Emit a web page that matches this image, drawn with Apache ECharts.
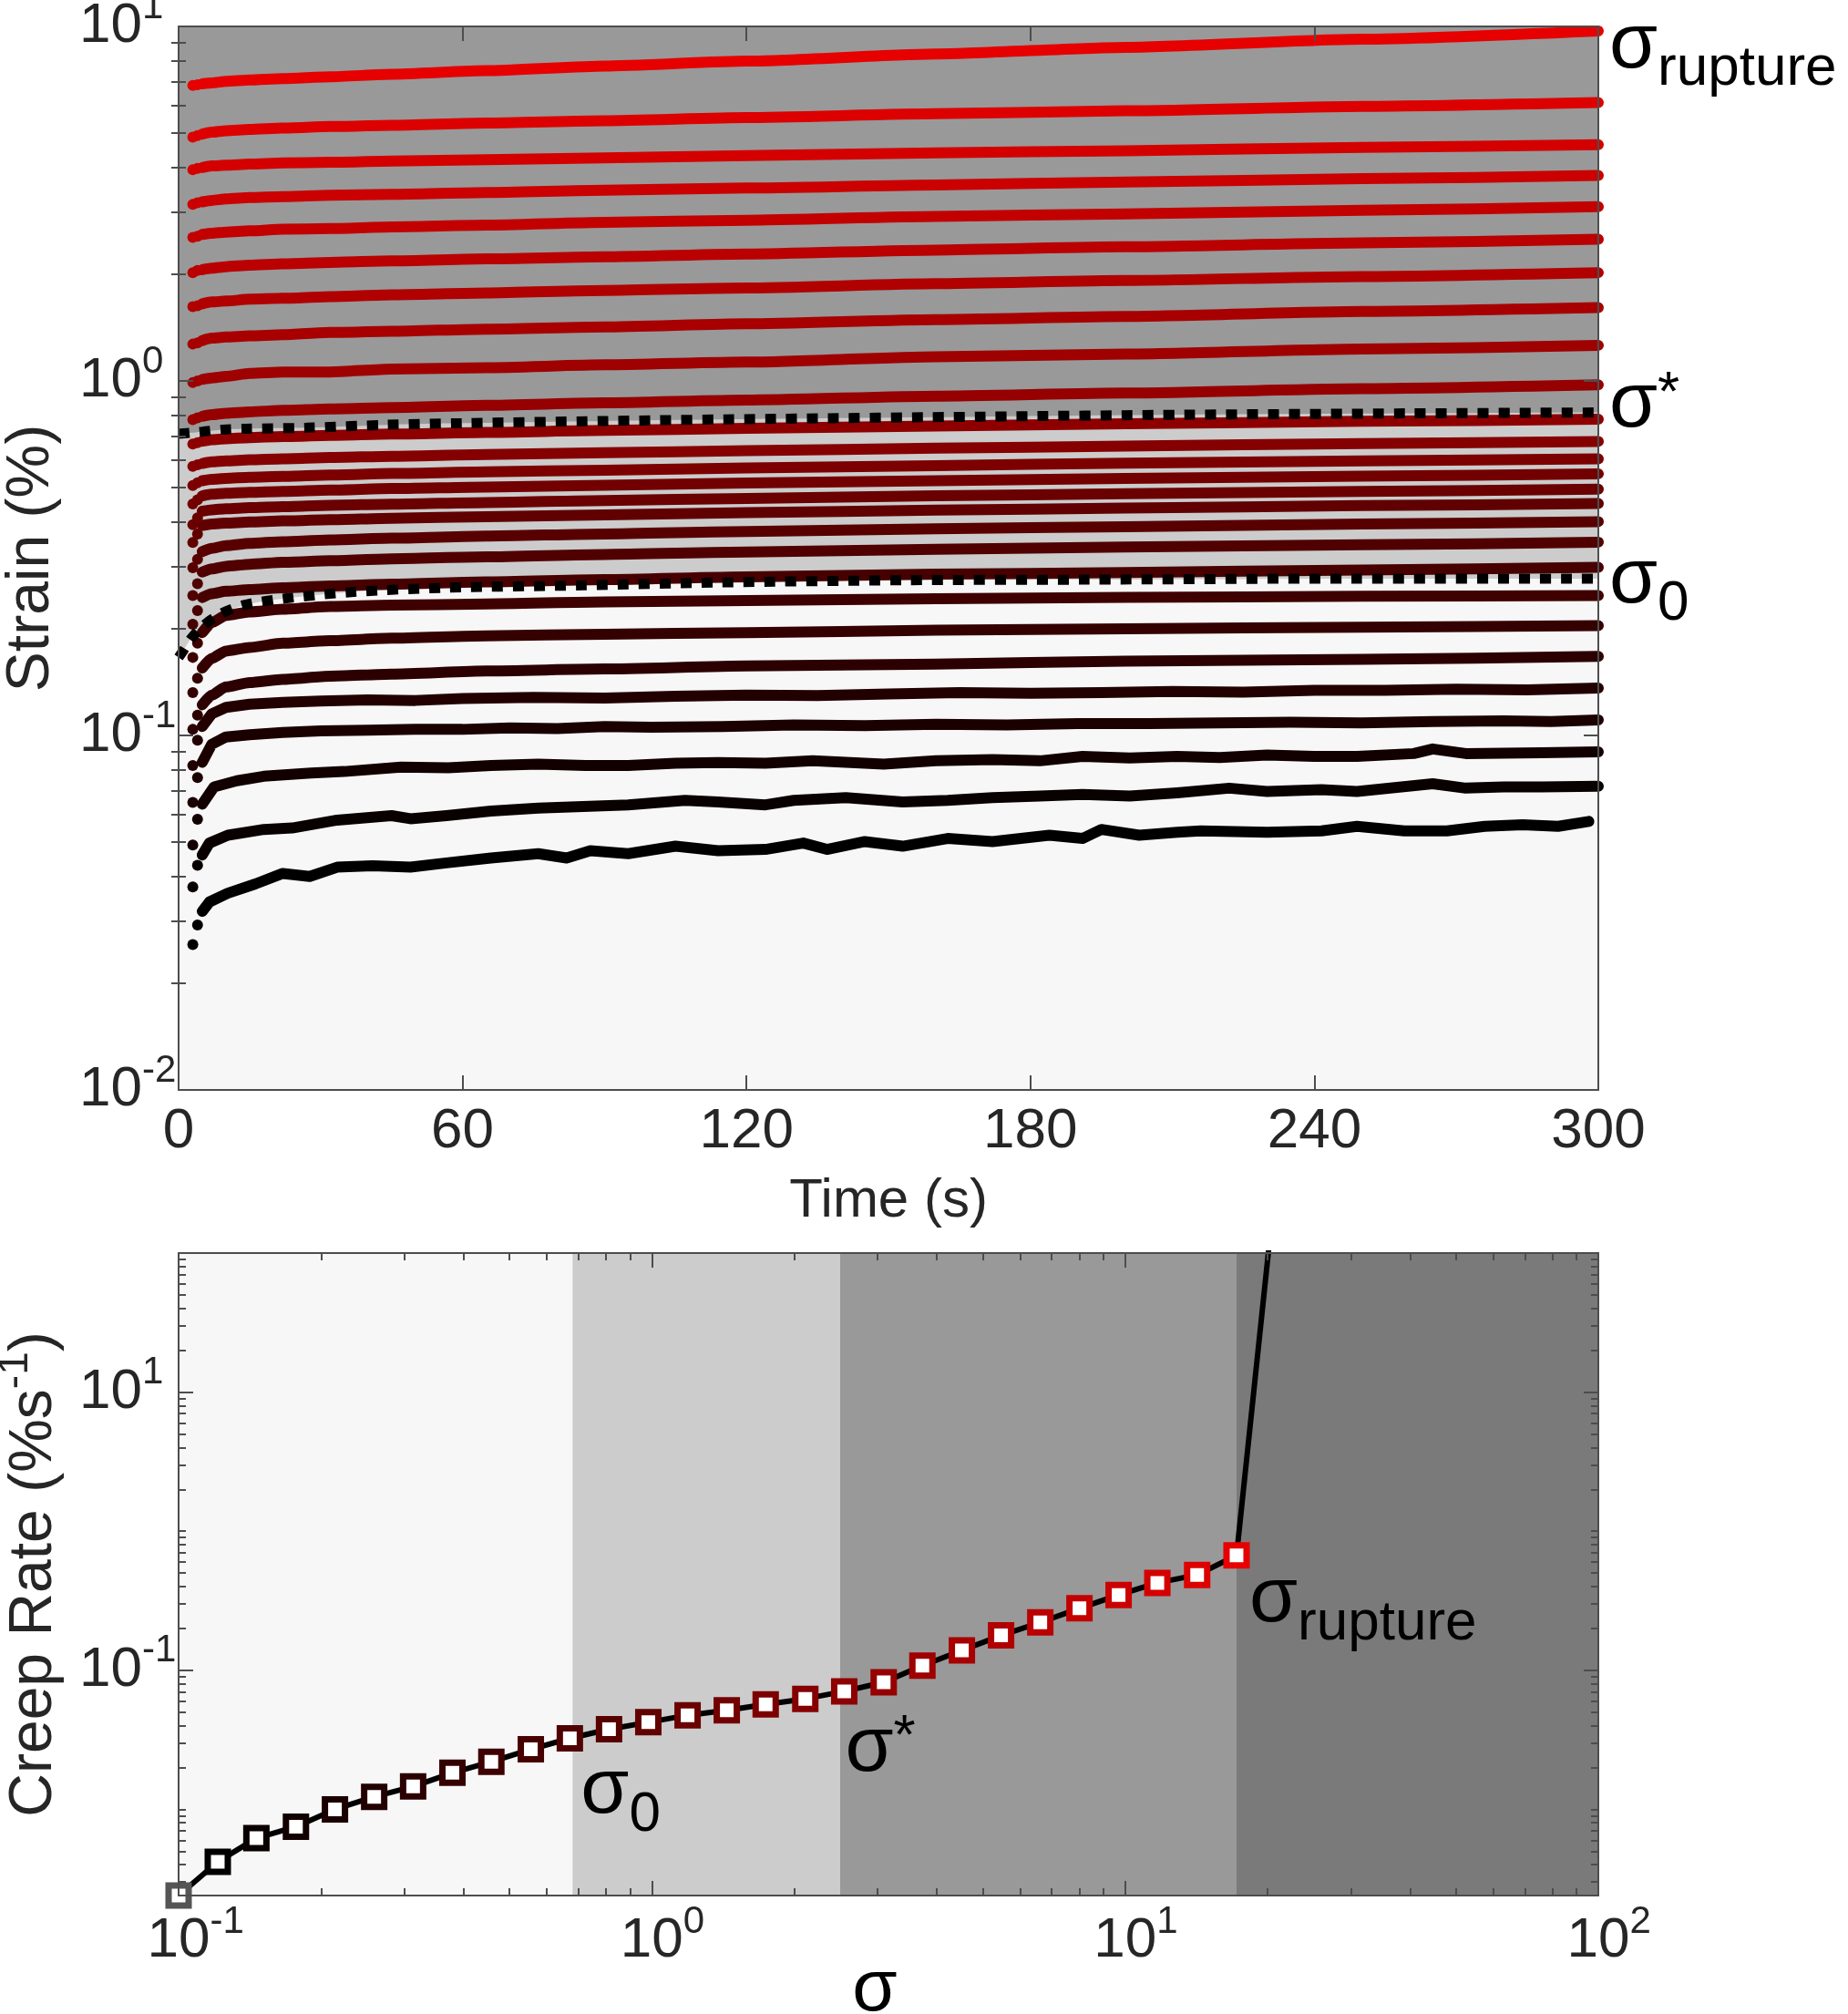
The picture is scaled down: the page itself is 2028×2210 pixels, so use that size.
<!DOCTYPE html>
<html>
<head>
<meta charset="utf-8">
<title>Creep strain and creep rate</title>
<script src="https://cdn.jsdelivr.net/npm/echarts@6.0.0/dist/echarts.min.js"></script>
<style>
  html, body { margin: 0; padding: 0; background: #ffffff; }
  #chart { width: 2028px; height: 2210px; }
</style>
</head>
<body>
<div id="chart"></div>
<script>
// ---- top panel: strain vs time, one curve per stress step (top = highest stress) ----
const leadTimes = [3, 4];
const bodyTimes = [5, 7, 10, 15, 22, 32, 45, 65, 90, 120, 160, 200, 250, 300];

// values at leadTimes followed by bodyTimes
const upperStrain = [
  [6.82, 6.85, 6.89, 6.93, 7.00, 7.06, 7.13, 7.21, 7.33, 7.50, 7.73, 7.98, 8.36, 8.73, 9.20, 9.71],
  [4.87, 4.92, 4.97, 5.03, 5.08, 5.12, 5.17, 5.22, 5.26, 5.34, 5.42, 5.53, 5.67, 5.78, 5.95, 6.10],
  [3.94, 3.98, 4.00, 4.04, 4.06, 4.09, 4.12, 4.14, 4.17, 4.21, 4.26, 4.32, 4.40, 4.46, 4.56, 4.64],
  [3.15, 3.18, 3.20, 3.23, 3.26, 3.29, 3.31, 3.34, 3.36, 3.40, 3.45, 3.50, 3.57, 3.64, 3.72, 3.80],
  [2.54, 2.56, 2.59, 2.61, 2.63, 2.65, 2.68, 2.69, 2.72, 2.75, 2.80, 2.84, 2.91, 2.96, 3.03, 3.10],
  [2.02, 2.05, 2.06, 2.08, 2.10, 2.12, 2.14, 2.16, 2.18, 2.21, 2.24, 2.28, 2.34, 2.39, 2.45, 2.51],
  [1.62, 1.63, 1.65, 1.67, 1.68, 1.70, 1.71, 1.73, 1.75, 1.77, 1.80, 1.83, 1.88, 1.92, 1.97, 2.02],
  [1.27, 1.28, 1.30, 1.32, 1.33, 1.34, 1.35, 1.37, 1.38, 1.40, 1.42, 1.45, 1.49, 1.52, 1.57, 1.61],
  [0.989, 1.00, 1.01, 1.02, 1.03, 1.05, 1.06, 1.06, 1.08, 1.09, 1.11, 1.13, 1.17, 1.19, 1.23, 1.26],
  [0.778, 0.787, 0.795, 0.803, 0.811, 0.818, 0.826, 0.834, 0.841, 0.853, 0.867, 0.883, 0.906, 0.924, 0.951, 0.975]
];

const middleStrain = [
  [0.664, 0.670, 0.676, 0.683, 0.687, 0.692, 0.697, 0.702, 0.708, 0.716, 0.725, 0.735, 0.746, 0.757, 0.769, 0.780],
  [0.574, 0.580, 0.585, 0.591, 0.595, 0.599, 0.603, 0.608, 0.613, 0.620, 0.627, 0.636, 0.646, 0.655, 0.666, 0.675],
  [0.507, 0.516, 0.523, 0.528, 0.531, 0.535, 0.538, 0.543, 0.548, 0.554, 0.560, 0.568, 0.577, 0.586, 0.595, 0.603],
  [0.450, 0.462, 0.474, 0.479, 0.482, 0.485, 0.488, 0.492, 0.497, 0.502, 0.508, 0.515, 0.523, 0.531, 0.539, 0.547],
  [0.393, 0.411, 0.429, 0.433, 0.436, 0.439, 0.442, 0.446, 0.449, 0.454, 0.460, 0.466, 0.474, 0.481, 0.488, 0.495],
  [0.350, 0.370, 0.391, 0.395, 0.397, 0.400, 0.403, 0.406, 0.410, 0.414, 0.419, 0.425, 0.432, 0.438, 0.445, 0.451],
  [0.297, 0.314, 0.330, 0.337, 0.343, 0.348, 0.352, 0.356, 0.360, 0.365, 0.370, 0.376, 0.383, 0.388, 0.395, 0.401],
  [0.248, 0.268, 0.289, 0.295, 0.300, 0.304, 0.308, 0.311, 0.315, 0.319, 0.324, 0.329, 0.335, 0.340, 0.345, 0.351],
  [0.206, 0.225, 0.245, 0.251, 0.255, 0.258, 0.261, 0.264, 0.267, 0.271, 0.275, 0.280, 0.285, 0.288, 0.293, 0.298]
];

const lowerStrain = [
  [0.166, 0.182, 0.195, 0.208, 0.218, 0.223, 0.227, 0.231, 0.233, 0.235, 0.238, 0.240, 0.243, 0.245, 0.247, 0.248],
  [0.132, 0.145, 0.155, 0.165, 0.173, 0.177, 0.182, 0.185, 0.188, 0.191, 0.193, 0.195, 0.198, 0.200, 0.202, 0.204],
  [0.104, 0.114, 0.122, 0.130, 0.137, 0.141, 0.144, 0.147, 0.149, 0.152, 0.154, 0.157, 0.159, 0.162, 0.164, 0.167]
];

// the noisy low-stress curves, [time, strain]
const noisyStrain = [
  [[3, 0.0822], [4, 0.097], [5, 0.106], [7, 0.115], [10, 0.120], [15, 0.1225], [22, 0.124], [30, 0.125], [40, 0.126],
   [50, 0.1255], [60, 0.127], [75, 0.128], [90, 0.1275], [105, 0.129], [120, 0.130], [135, 0.1295], [150, 0.131],
   [165, 0.132], [180, 0.1315], [195, 0.132], [210, 0.133], [225, 0.1325], [240, 0.134], [255, 0.134], [270, 0.135],
   [285, 0.1345], [300, 0.136]],
  [[3, 0.0647], [4, 0.076], [5, 0.084], [7, 0.0944], [10, 0.099], [15, 0.1005], [22, 0.102], [30, 0.103], [40, 0.1035],
   [50, 0.104], [60, 0.104], [70, 0.105], [80, 0.1045], [90, 0.106], [100, 0.1055], [115, 0.106], [130, 0.107],
   [145, 0.1065], [160, 0.1075], [175, 0.107], [190, 0.108], [205, 0.108], [220, 0.1085], [235, 0.109], [250, 0.1085],
   [265, 0.1095], [280, 0.110], [290, 0.1095], [300, 0.1106]],
  [[3, 0.0491], [4, 0.058], [5, 0.064], [7.5, 0.0716], [12.3, 0.0745], [18, 0.0767], [28, 0.0783], [35, 0.0791],
   [47, 0.0814], [57, 0.081], [66, 0.0822], [76, 0.083], [86, 0.0822], [95, 0.0822], [105, 0.0835], [114, 0.0839],
   [124, 0.0835], [134, 0.0848], [149, 0.083], [160, 0.0848], [172, 0.0855], [182, 0.0848], [191, 0.0873],
   [201, 0.0864], [211, 0.0873], [220, 0.0866], [230, 0.0881], [240, 0.0873], [249, 0.0873], [261, 0.0889],
   [265, 0.0916], [272, 0.0889], [288, 0.0893], [300, 0.0899]],
  [[3, 0.0374], [4, 0.043], [5, 0.046], [6.5, 0.0497], [10.4, 0.0523], [18, 0.0543], [24, 0.0548], [33.5, 0.0577],
   [45, 0.0594], [49, 0.0582], [56.6, 0.0594], [66, 0.0612], [76, 0.0624], [85.5, 0.063], [95, 0.0637], [107, 0.0656],
   [114, 0.0649], [124, 0.0637], [130, 0.0656], [141, 0.0668], [153, 0.0649], [162.5, 0.0656], [172, 0.0668],
   [182, 0.0675], [191, 0.0682], [201, 0.0675], [211, 0.0689], [222, 0.0710], [230, 0.0695], [241.5, 0.0703],
   [249, 0.0695], [265, 0.0731], [272, 0.0710], [280, 0.0716], [288, 0.0716], [300, 0.0719]],
  [[3, 0.0257], [4, 0.0292], [5, 0.0319], [6.5, 0.0339], [10.4, 0.0359], [16.2, 0.0381], [22, 0.0408], [27.7, 0.040],
   [33.5, 0.0425], [41, 0.0429], [49, 0.0425], [56.6, 0.0437], [66, 0.0451], [76, 0.0464], [82, 0.0451], [87, 0.0473],
   [95, 0.0464], [105, 0.0487], [114, 0.0473], [124, 0.0477], [132, 0.0497], [137, 0.0477], [145, 0.0502],
   [153, 0.0487], [162.5, 0.0512], [172, 0.0502], [184, 0.0523], [191, 0.0512], [195, 0.0543], [203, 0.0523],
   [211, 0.0533], [216, 0.0538], [230, 0.0533], [241.5, 0.0538], [249, 0.0554], [259, 0.0538], [268, 0.0538],
   [276, 0.0554], [284, 0.0560], [291.5, 0.0554], [298, 0.0572]]
];

// dotted regime boundaries [time, strain]
const sigmaStarLine = [[0, 0.709], [5, 0.719], [9.4, 0.729], [14, 0.733], [27, 0.738], [44, 0.752], [60, 0.760],
  [90, 0.771], [126, 0.782], [170, 0.793], [213, 0.803], [260, 0.810], [300, 0.815]];
const sigmaZeroLine = [[0, 0.166], [0.8, 0.172], [2.7, 0.188], [5.6, 0.206], [9.4, 0.222], [14.3, 0.234], [22, 0.243],
  [37, 0.254], [56.6, 0.261], [85.5, 0.265], [114, 0.270], [153, 0.274], [191, 0.275], [249, 0.277], [300, 0.277]];

const timeTicks = [0, 60, 120, 180, 240, 300];
const strainMajor = [0.01, 0.1, 1, 10];
const strainMinor = [0.02, 0.03, 0.04, 0.05, 0.06, 0.07, 0.08, 0.09, 0.2, 0.3, 0.4, 0.5, 0.6, 0.7, 0.8, 0.9,
  2, 3, 4, 5, 6, 7, 8, 9];

// ---- bottom panel: creep rate vs stress ----
const stressLevels = [0.1, 0.121, 0.146, 0.177, 0.214, 0.259, 0.313, 0.379, 0.458, 0.555, 0.671, 0.812, 0.983,
  1.19, 1.44, 1.74, 2.11, 2.55, 3.09, 3.73, 4.52, 5.47, 6.62, 8.01, 9.69, 11.7, 14.2, 17.2];
const creepRates = [0.0024, 0.0042, 0.0062, 0.0075, 0.0100, 0.0123, 0.0146, 0.0183, 0.0220, 0.0270, 0.0324,
  0.0377, 0.0423, 0.0475, 0.0515, 0.0569, 0.0623, 0.0706, 0.082, 0.108, 0.139, 0.178, 0.221, 0.279, 0.348,
  0.425, 0.485, 0.670];
const ruptureRate = [20.7, 270]; // next point, off the top of the axis

const bandEdges = [0.1, 0.68, 2.5, 17.2, 100];
const bandColors = ['#f7f7f7', '#cccccc', '#999999', '#7a7a7a'];

const stressMajor = [0.1, 1, 10, 100];
const stressMinor = [0.2, 0.3, 0.4, 0.5, 0.6, 0.7, 0.8, 0.9, 2, 3, 4, 5, 6, 7, 8, 9, 20, 30, 40, 50, 60, 70, 80, 90];
const rateMajor = [0.1, 10];
const rateMinor = [0.003, 0.004, 0.005, 0.006, 0.007, 0.008, 0.009, 0.01, 0.02, 0.03, 0.04, 0.05, 0.06, 0.07,
  0.08, 0.09, 0.2, 0.3, 0.4, 0.5, 0.6, 0.7, 0.8, 0.9, 1, 2, 3, 4, 5, 6, 7, 8, 9, 20, 30, 40, 50, 60, 70, 80, 90, 100];

// ---- styling ----
const FONT = '"Liberation Sans", Arial, Helvetica, sans-serif';
const AX = '#4d4d4d';
const TXT = '#262626';
const CURVE_W = 12;
const Y_LABEL_LEFT = 87; // MATLAB lines the "10" bases up on the left

// black (lowest stress) -> red (highest)
function curveColor(rank) {
  return 'rgb(' + Math.round(230 * rank / 26) + ',0,0)';
}

const powRich = {
  b: { fontFamily: FONT, fontSize: 62, lineHeight: 84, color: TXT },
  s: { fontFamily: FONT, fontSize: 42, lineHeight: 42, verticalAlign: 'top', color: TXT },
  p: { fontFamily: FONT, fontSize: 42, lineHeight: 42, verticalAlign: 'top', color: 'rgba(0,0,0,0)' }
};
const sigmaRich = {
  s: { fontFamily: FONT, fontSize: 86, lineHeight: 86, verticalAlign: 'top', color: '#000' },
  sub: { fontFamily: FONT, fontSize: 62, lineHeight: 62, verticalAlign: 'top', padding: [38, 0, 0, 0], color: '#000' },
  sup: { fontFamily: FONT, fontSize: 62, lineHeight: 62, verticalAlign: 'top', color: '#000' }
};

function expOf(v) { return Math.round(Math.log10(v)); }
function powLabel(v) { return '{b|10}{s|' + expOf(v) + '}'; }
function powLabelCentered(v) { const e = expOf(v); return '{p|' + e + '}{b|10}{s|' + e + '}'; }

const axisLine = { show: true, onZero: false, lineStyle: { color: AX, width: 2 } };
function ticks(len, values) {
  const t = { show: true, inside: true, length: len, lineStyle: { color: AX, width: 2 } };
  if (values) t.customValues = values;
  return t;
}
const noLabel = { show: false };
const noSplit = { show: false };

function logAxis(grid, min, max, pos, tickLen, tickVals, extra) {
  return Object.assign({
    gridIndex: grid, type: 'log', logBase: 10, min: min, max: max, position: pos, z: 10,
    axisLine: axisLine, axisTick: ticks(tickLen, tickVals), axisLabel: noLabel,
    splitLine: noSplit, minorTick: { show: false }, minorSplitLine: { show: false }
  }, extra || {});
}

// ---- build series ----
const series = [];

// regime fills (top panel)
series.push({
  type: 'line', xAxisIndex: 0, yAxisIndex: 0, data: sigmaZeroLine, symbol: 'none', smooth: 0.3,
  lineStyle: { width: 0 }, areaStyle: { color: '#cccccc', origin: 'end', opacity: 1 }, z: 1, silent: true
});
series.push({
  type: 'line', xAxisIndex: 0, yAxisIndex: 0, data: sigmaStarLine, symbol: 'none', smooth: 0.3,
  lineStyle: { width: 0 }, areaStyle: { color: '#999999', origin: 'end', opacity: 1 }, z: 1, silent: true
});

const curves = [];
[].concat(upperStrain, middleStrain, lowerStrain).forEach(function (vals) {
  curves.push({
    lead: leadTimes.map(function (t, j) { return [t, vals[j]]; }),
    body: bodyTimes.map(function (t, j) { return [t, vals[j + leadTimes.length]]; }),
    smooth: true
  });
});
noisyStrain.forEach(function (pairs) {
  curves.push({ lead: pairs.slice(0, 2), body: pairs.slice(2), smooth: false });
});

// draw from lowest stress up so the red curves sit on top
for (let i = curves.length - 1; i >= 0; i--) {
  const c = curves[i];
  const color = curveColor(curves.length - 1 - i);
  const line = {
    type: 'line', xAxisIndex: 0, yAxisIndex: 0, data: c.body, symbol: 'none', showSymbol: false,
    smooth: c.smooth ? 0.2 : false, smoothMonotone: 'x',
    lineStyle: { color: color, width: CURVE_W, cap: 'round', join: 'round' }, z: 3, silent: true
  };
  if (i === 0) {
    line.endLabel = {
      show: true, formatter: '{s|σ}{sub|rupture}', rich: sigmaRich,
      distance: 12, offset: [0, 16], align: 'left', verticalAlign: 'middle'
    };
  }
  series.push(line);
  series.push({
    type: 'scatter', xAxisIndex: 0, yAxisIndex: 0, data: c.lead, symbol: 'circle', symbolSize: CURVE_W,
    itemStyle: { color: color, opacity: 1 }, z: 3, silent: true, clip: false
  });
}

// dotted regime boundaries
const dotted = { color: '#000', width: 11, type: [12, 11], cap: 'butt' };
series.push({
  type: 'line', xAxisIndex: 0, yAxisIndex: 0, data: sigmaStarLine, symbol: 'none', smooth: 0.3,
  lineStyle: dotted, z: 5, silent: true,
  endLabel: { show: true, formatter: '{s|σ}{sup|*}', rich: sigmaRich, distance: 12, offset: [0, -8],
    align: 'left', verticalAlign: 'middle' }
});
series.push({
  type: 'line', xAxisIndex: 0, yAxisIndex: 0, data: sigmaZeroLine, symbol: 'none', smooth: 0.3,
  lineStyle: dotted, z: 5, silent: true,
  endLabel: { show: true, formatter: '{s|σ}{sub|0}', rich: sigmaRich, distance: 12, offset: [0, 2],
    align: 'left', verticalAlign: 'middle' }
});

// bottom panel
const creepPoints = stressLevels.map(function (s, k) { return [s, creepRates[k]]; });
const bands = [];
for (let b = 0; b < bandColors.length; b++) {
  bands.push([{ xAxis: bandEdges[b], itemStyle: { color: bandColors[b], opacity: 1 } }, { xAxis: bandEdges[b + 1] }]);
}
series.push({
  type: 'line', xAxisIndex: 2, yAxisIndex: 4, data: creepPoints, symbol: 'none',
  lineStyle: { opacity: 0 }, z: 1, silent: true,
  markArea: { silent: true, data: bands, label: { show: false } }
});
series.push({
  type: 'line', xAxisIndex: 2, yAxisIndex: 4, data: creepPoints.concat([ruptureRate]), symbol: 'none',
  lineStyle: { color: '#000', width: 6, join: 'round' }, z: 3, silent: true
});

const sigmaMarks = [
  { index: 10, text: '{s|σ}{sub|0}', offset: [12, 15] },
  { index: 17, text: '{s|σ}{sup|*}', offset: [1, 20] },
  { index: 27, text: '{s|σ}{sub|rupture}', offset: [14, 6] }
];
const markerItems = creepPoints.map(function (p, k) {
  return { value: p, itemStyle: { borderColor: k === 0 ? '#555555' : curveColor(k - 1) } };
});
sigmaMarks.forEach(function (m) {
  markerItems[m.index].label = {
    show: true, formatter: m.text, rich: sigmaRich, position: 'inside',
    align: 'left', verticalAlign: 'top', offset: m.offset
  };
});
series.push({
  type: 'scatter', xAxisIndex: 2, yAxisIndex: 4, data: markerItems, symbol: 'rect', symbolSize: 22,
  itemStyle: { color: '#ffffff', borderWidth: 7, opacity: 1 }, z: 4, clip: false, silent: true
});

const tickFont = { fontFamily: FONT, fontSize: 62, color: TXT };
const nameFont = { fontFamily: FONT, fontSize: 60, color: TXT };
const yNameFont = { fontFamily: FONT, fontSize: 66, color: TXT };
const yPowLabel = function (values) {
  return { show: true, customValues: values, formatter: powLabel, rich: powRich, align: 'left', margin: 196 - Y_LABEL_LEFT };
};

const option = {
  animation: false,
  backgroundColor: '#ffffff',
  textStyle: { fontFamily: FONT },
  grid: [
    { left: 196, top: 29, width: 1558, height: 1167, show: true, backgroundColor: '#f7f7f7', borderWidth: 0,
      containLabel: false, outerBoundsMode: 'none' },
    { left: 196, top: 1375, width: 1558, height: 705, show: true, backgroundColor: '#f7f7f7', borderWidth: 0,
      containLabel: false, outerBoundsMode: 'none' }
  ],
  xAxis: [
    {
      gridIndex: 0, type: 'value', min: 0, max: 300, interval: 60, position: 'bottom', z: 10,
      axisLine: axisLine, axisTick: ticks(16, timeTicks),
      axisLabel: Object.assign({ margin: 15, customValues: timeTicks }, tickFont),
      splitLine: noSplit,
      name: 'Time (s)', nameLocation: 'middle', nameGap: 92, nameMoveOverlap: false, nameTextStyle: nameFont
    },
    {
      gridIndex: 0, type: 'value', min: 0, max: 300, interval: 60, position: 'top', z: 10,
      axisLine: axisLine, axisTick: ticks(16, timeTicks), axisLabel: noLabel, splitLine: noSplit
    },
    logAxis(1, 0.1, 100, 'bottom', 16, stressMajor, {
      axisLabel: { show: true, customValues: stressMajor, formatter: powLabelCentered, rich: powRich, margin: 8 },
      name: 'σ', nameLocation: 'middle', nameGap: 64, nameMoveOverlap: false,
      nameTextStyle: { fontFamily: FONT, fontSize: 80, color: '#000', padding: [0, 30, 0, 0] }
    }),
    logAxis(1, 0.1, 100, 'bottom', 8, stressMinor, { axisLine: { show: false } }),
    logAxis(1, 0.1, 100, 'top', 16, stressMajor),
    logAxis(1, 0.1, 100, 'top', 8, stressMinor, { axisLine: { show: false } })
  ],
  yAxis: [
    logAxis(0, 0.01, 10, 'left', 16, strainMajor, {
      axisLabel: yPowLabel(strainMajor),
      name: 'Strain (%)', nameLocation: 'middle', nameGap: 128, nameMoveOverlap: false, nameTextStyle: yNameFont
    }),
    logAxis(0, 0.01, 10, 'left', 8, strainMinor, { axisLine: { show: false } }),
    logAxis(0, 0.01, 10, 'right', 16, strainMajor),
    logAxis(0, 0.01, 10, 'right', 8, strainMinor, { axisLine: { show: false } }),
    logAxis(1, 0.0024, 100, 'left', 16, rateMajor, {
      axisLabel: yPowLabel(rateMajor),
      name: '{n|Creep Rate (%s}{e|-1}{n|)}', nameLocation: 'middle', nameGap: 114, nameMoveOverlap: false,
      nameTextStyle: {
        fontFamily: FONT, fontSize: 66, color: TXT,
        rich: {
          n: { fontFamily: FONT, fontSize: 66, lineHeight: 88, color: TXT },
          e: { fontFamily: FONT, fontSize: 46, lineHeight: 46, verticalAlign: 'top', color: TXT }
        }
      }
    }),
    logAxis(1, 0.0024, 100, 'left', 8, rateMinor, { axisLine: { show: false } }),
    logAxis(1, 0.0024, 100, 'right', 16, rateMajor),
    logAxis(1, 0.0024, 100, 'right', 8, rateMinor, { axisLine: { show: false } })
  ],
  series: series
};

const chart = echarts.init(document.getElementById('chart'), null, { renderer: 'canvas' });
chart.setOption(option);
</script>
</body>
</html>
